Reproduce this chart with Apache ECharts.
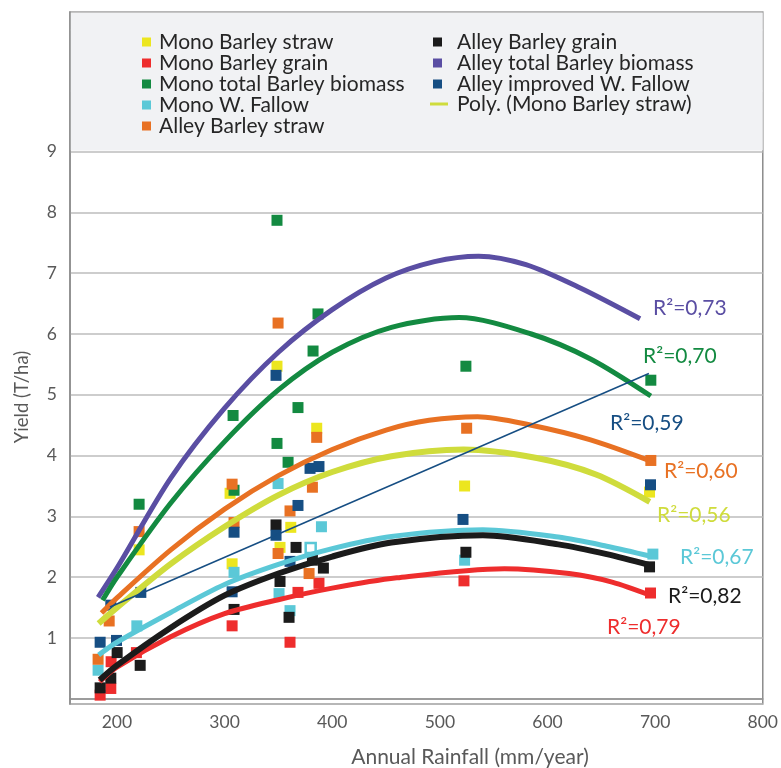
<!DOCTYPE html>
<html><head><meta charset="utf-8">
<script src="https://cdn.jsdelivr.net/npm/echarts@6/dist/echarts.min.js"></script>
<style>html,body{margin:0;padding:0;background:#fff}#c{width:781px;height:768px}</style>
</head><body><div id="c"></div>
<script>
// ---- axis settings ----
const xRange = [156.4, 800];
const yRange = [-0.0855, 11.296];
const xTickLabels = [200, 300, 400, 500, 600, 700, 800];
const yTickLabels = [1, 2, 3, 4, 5, 6, 7, 8, 9];

// ---- series names ----
const seriesNames = ['Mono Barley straw','Mono Barley grain','Mono total Barley biomass','Mono W. Fallow','Alley Barley straw','Alley Barley grain','Alley total Barley biomass','Alley improved W. Fallow'];
const polyName = 'Poly. (Mono Barley straw)';

// ---- scatter data [rainfall, yield] ----
const monoStraw = [[220.6,2.45],[305.1,3.38],[307,2.22],[348.7,5.47],[351.5,2.49],[361.5,2.82],[385.6,4.45],[523,3.50],[694.8,3.40]];
const monoGrain = [[184.4,0.06],[194.3,0.17],[194.6,0.61],[218.1,0.76],[307,1.20],[360.8,0.93],[368.2,1.75],[387.7,1.90],[522.4,1.94],[695.7,1.74]];
const monoTotal = [[220.6,3.20],[307.9,4.66],[308.8,3.43],[348.7,7.87],[348.7,4.20],[359,3.89],[368.2,4.79],[382.2,5.72],[386.8,6.33],[524.2,5.47],[696,5.24]];
const monoFallow = [[182.5,0.47],[218.5,1.20],[308.8,2.08],[349.7,3.54],[350.6,1.73],[360.8,1.45],[390,2.83],[523,2.28],[697.9,2.38]];
const monoFallowOpen = [[380,2.48]];
const alleyStraw = [[182.5,0.65],[192.8,1.28],[220.6,2.75],[307,3.53],[308.8,2.90],[349.7,6.18],[349.7,2.39],[360.8,3.09],[378.5,2.06],[381.6,3.48],[385.6,4.30],[524.9,4.45],[696,3.92]];
const alleyGrain = [[184.4,0.18],[194.3,0.34],[200.2,0.76],[221.6,0.55],[308.8,1.47],[347.8,2.86],[351.5,1.93],[359.9,1.34],[366.4,2.49],[381.6,2.28],[391.8,2.15],[524.2,2.41],[694.8,2.17]];
const alleyTotal = [];
const alleyFallow = [[184.4,0.93],[194.3,1.54],[199.6,0.96],[222.2,1.75],[307,1.76],[308.8,2.74],[347.8,5.32],[347.8,2.69],[360.8,2.26],[368.2,3.18],[379.4,3.79],[387.7,3.82],[521.5,2.95],[695.7,3.52]];

// ---- trend curves ----
const trendAlleyTotal = [[182.5,1.67],[200,2.15],[250,3.63],[300,4.78],[350,5.70],[400,6.40],[450,6.92],[495,7.19],[536,7.28],[580,7.14],[630,6.76],[686,6.25]];
const trendMonoTotal = [[186.6,1.62],[200,2.00],[250,3.22],[300,4.23],[350,5.08],[400,5.70],[455,6.11],[518,6.27],[585,6.00],[640,5.59],[696,4.98]];
const trendAlleyStraw = [[185.7,1.41],[200,1.66],[250,2.45],[300,3.12],[350,3.67],[400,4.10],[450,4.42],[490,4.58],[535,4.64],[585,4.50],[640,4.26],[693,3.93]];
const trendMonoStraw = [[183,1.24],[200,1.50],[250,2.22],[300,2.83],[350,3.35],[400,3.73],[455,3.99],[522,4.10],[590,3.96],[645,3.69],[695,3.24]];
const trendAlleyFallow = [[193.5,1.51],[694.2,5.35]];
const trendMonoFallow = [[183,0.72],[200,0.93],[250,1.42],[300,1.88],[350,2.21],[400,2.47],[455,2.67],[540,2.78],[610,2.66],[655,2.51],[697,2.34]];
const trendAlleyGrain = [[184,0.31],[200,0.55],[250,1.17],[300,1.70],[350,2.06],[400,2.34],[455,2.57],[540,2.69],[610,2.54],[655,2.38],[695,2.20]];
const trendMonoGrain = [[184,0.28],[200,0.52],[250,1.02],[300,1.40],[350,1.63],[400,1.82],[460,1.99],[560,2.14],[620,2.06],[660,1.92],[696,1.70]];

// ---- R² labels ----
const r2Labels = ['R²=0,73','R²=0,70','R²=0,59','R²=0,60','R²=0,56','R²=0,67','R²=0,82','R²=0,79'];

// ---- styles ----
const C = {
  yellow:'#ece61f', red:'#ee2d2d', green:'#138a41', cyan:'#5bc8d7',
  orange:'#e87123', black:'#1b1b1b', purple:'#5a4ea3', blue:'#164e83', poly:'#cfdc3c'
};
const FONT = 'Lato';
const scatterData = [monoStraw, monoGrain, monoTotal, monoFallow, alleyStraw, alleyGrain, alleyTotal, alleyFallow];
const scatterColors = [C.yellow, C.red, C.green, C.cyan, C.orange, C.black, C.purple, C.blue];

const series = [];
scatterData.forEach((d, i) => {
  let data = d.map(p => p.slice());
  if (i === 3) {
    data = data.concat(monoFallowOpen.map(p => ({value: p.slice(), itemStyle: {color: '#ffffff', borderColor: C.cyan, borderWidth: 2.5}, symbolSize: 10})));
  }
  series.push({
    name: seriesNames[i], type: 'scatter', symbol: 'rect', symbolSize: 11,
    itemStyle: {color: scatterColors[i], opacity: 1}, data: data, z: 2
  });
});
function trend(name, data, color, width, z) {
  return {name: name, type: 'line', data: data, smooth: 0.3,
    showSymbol: false, symbol: 'none', lineStyle: {color: color, width: width, cap: 'butt'},
    itemStyle: {color: color}, z: z, silent: true};
}
series.push(trend('t-alley-total', trendAlleyTotal, C.purple, 5, 3));
series.push(trend('t-mono-total', trendMonoTotal, C.green, 5, 3));
series.push(trend('t-alley-straw', trendAlleyStraw, C.orange, 5, 3));
series.push(trend(polyName, trendMonoStraw, C.poly, 6, 3));
series.push(trend('t-alley-fallow', trendAlleyFallow, C.blue, 1.5, 3));
series.push(trend('t-mono-fallow', trendMonoFallow, C.cyan, 5, 3));
series.push(trend('t-mono-grain', trendMonoGrain, C.red, 5, 3));
series.push(trend('t-alley-grain', trendAlleyGrain, C.black, 6, 4));

const r2Pos = [[653,308,C.purple],[643,356,C.green],[610,423,C.blue],[664,471,C.orange],[657,515,C.poly],[680,557,C.cyan],[668,596,C.black],[607,627,C.red]];
const graphics = [
  {type:'rect', shape:{x:70.8, y:12.8, width:692, height:137.6}, style:{fill:'#f1f2f4'}, z:3, silent:true},
  {type:'text', x:470, y:757, z:5, style:{text:'Annual Rainfall (mm/year)', fill:'#595959', font:'21px ' + FONT, align:'center', verticalAlign:'middle'}},
  {type:'text', x:22, y:397, rotation:Math.PI/2, z:5, style:{text:'Yield (T/ha)', fill:'#595959', font:'18.5px ' + FONT, align:'center', verticalAlign:'middle'}}
];
r2Labels.forEach((t, i) => {
  graphics.push({type:'text', x:r2Pos[i][0], y:r2Pos[i][1], z:6, style:{text:t, fill:r2Pos[i][2], font:'21px ' + FONT, align:'left', verticalAlign:'middle'}});
});

const legendText = {color:'#262626', fontSize:21, fontFamily:FONT, lineHeight:21};
const option = {
  animation: false,
  textStyle: {fontFamily: FONT},
  grid: {left:70, right:18, top:12, bottom:64, show:true, borderColor:'#8c8c8c', borderWidth:1.5, backgroundColor:'transparent'},
  xAxis: {
    type:'value', min:xRange[0], max:xRange[1], splitNumber:6,
    axisLine:{show:true, lineStyle:{color:'#8c8c8c', width:1.5}},
    axisTick:{show:false}, splitLine:{show:false},
    axisLabel:{color:'#595959', fontSize:17.5, fontFamily:FONT, margin:9,
      formatter: v => xTickLabels.some(t => Math.abs(t - v) < 1e-6) ? String(Math.round(v)) : ''}
  },
  yAxis: {
    type:'value', min:yRange[0], max:yRange[1], splitNumber:11,
    axisLine:{show:true, lineStyle:{color:'#8c8c8c', width:1.5}},
    axisTick:{show:false},
    splitLine:{show:true, lineStyle:{color:'#bcbcbc', width:1.5}},
    axisLabel:{color:'#595959', fontSize:17.5, fontFamily:FONT, margin:13,
      formatter: v => yTickLabels.some(t => Math.abs(t - v) < 1e-6) ? String(Math.round(v)) : ''}
  },
  legend: [
    {data: seriesNames.slice(0,5), orient:'vertical', left:142, top:31.5, padding:0, itemGap:0, itemWidth:9, itemHeight:9, icon:'rect', textStyle:Object.assign({padding:[0,0,0,3]}, legendText), z:10, selectedMode:false},
    {data: seriesNames.slice(5,8), orient:'vertical', left:433, top:31.5, padding:0, itemGap:0, itemWidth:9, itemHeight:9, icon:'rect', textStyle:Object.assign({padding:[0,0,0,10]}, legendText), z:10, selectedMode:false},
    {data: [polyName], orient:'vertical', left:430, top:93.5, padding:0, itemGap:0, itemWidth:18, itemHeight:3, icon:'rect', textStyle:Object.assign({padding:[0,0,0,4]}, legendText), z:10, selectedMode:false}
  ],
  graphic: graphics,
  series: series
};
const chart = echarts.init(document.getElementById('c'), null, {renderer:'canvas'});
chart.setOption(option);
</script></body></html>
